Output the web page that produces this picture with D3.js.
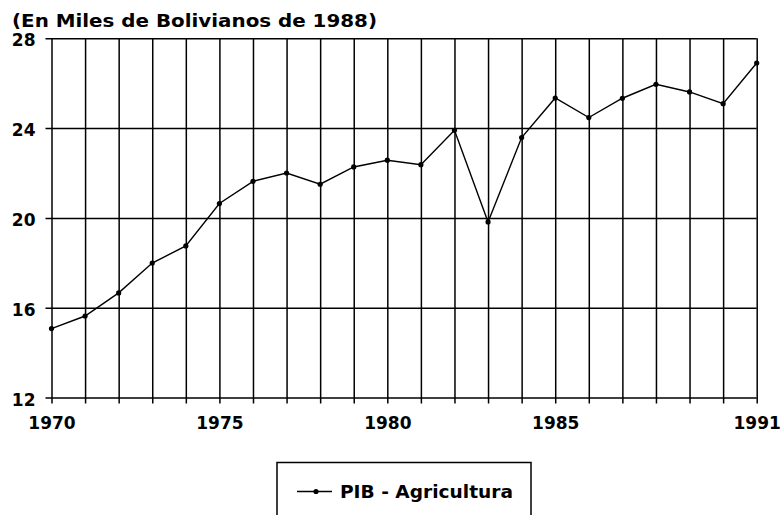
<!DOCTYPE html>
<html>
<head>
  <style type="text/css">
    body { margin: 0; background: #fff; }
    text { font-family: "DejaVu Sans", sans-serif; font-weight: bold; fill: #000; }
  </style>
</head>
<body>
  <svg width="780" height="515" id="chart"></svg>

  <script src="https://d3js.org/d3.v7.min.js"></script>
  <script>

// PIB Agricultura, en miles de bolivianos de 1988
const years = d3.range(1970, 1992)
const pib = [15.07, 15.63, 16.66, 17.99, 18.75, 20.64, 21.63, 22.0, 21.5, 22.27, 22.57,
             22.37, 23.9, 19.82, 23.58, 25.34, 24.47, 25.33, 25.95, 25.61, 25.09, 26.9]
const yTicks = [12, 16, 20, 24, 28]
const xLabels = [1970, 1975, 1980, 1985, 1991]
const title = '(En Miles de Bolivianos de 1988)'
const seriesName = 'PIB - Agricultura'

function translate(x, y) { return 'translate(' + x + ',' + y + ')'; }

let svg = d3.select('#chart')
let plotLeft = 51.5, plotRight = 756.7, plotTop = 38.3, plotBottom = 397.5
let x = d3.scaleLinear().domain([1970, 1991]).range([plotLeft, plotRight])
let y = d3.scaleLinear().domain([12, 28]).range([plotBottom, plotTop])

// vertical grid + x labels
let xAxis = d3.axisBottom(x)
  .tickValues(years)
  .tickSize(-(plotBottom - plotTop + 6))
  .tickPadding(13)
  .tickFormat(d => xLabels.includes(d) ? d : '')

let gx = svg.append('g').attr('transform', translate(0, plotBottom + 6)).call(xAxis)
gx.select('.domain').remove()

// horizontal grid + y labels
let yAxis = d3.axisLeft(y)
  .tickValues(yTicks)
  .tickSize(-(plotRight - plotLeft + 6))
  .tickPadding(10)

let gy = svg.append('g').attr('transform', translate(plotLeft - 6, 0)).call(yAxis)
gy.select('.domain').remove()

svg.selectAll('.tick line').attr('stroke', '#000').attr('stroke-width', 1.5)
svg.selectAll('.tick text')
  .attr('font-family', '"DejaVu Sans", sans-serif')
  .attr('font-weight', 'bold')
  .attr('font-size', 17)
  .attr('fill', '#000')
gy.selectAll('.tick text').attr('dy', '0.45em')

// title
svg.append('text')
  .attr('x', 12).attr('y', 27)
  .attr('font-size', 18)
  .attr('textLength', 365)
  .attr('lengthAdjust', 'spacingAndGlyphs')
  .text(title)

// series
let line = d3.line().x((d, i) => x(years[i])).y(d => y(d))

svg.append('path')
  .datum(pib)
  .attr('fill', 'none')
  .attr('stroke', '#000')
  .attr('stroke-width', 1.4)
  .attr('d', line)

svg.append('g').selectAll('circle')
  .data(pib)
  .enter()
  .append('circle')
    .attr('cx', (d, i) => x(years[i]))
    .attr('cy', d => y(d))
    .attr('r', 2.6)
    .attr('fill', '#000')

// legend
let legend = svg.append('g')
legend.append('rect')
  .attr('x', 277).attr('y', 462.5)
  .attr('width', 254).attr('height', 70)
  .attr('fill', 'none')
  .attr('stroke', '#000')
  .attr('stroke-width', 1.5)
legend.append('line')
  .attr('x1', 297).attr('x2', 332)
  .attr('y1', 491.5).attr('y2', 491.5)
  .attr('stroke', '#000').attr('stroke-width', 1.4)
legend.append('circle')
  .attr('cx', 316).attr('cy', 491.5).attr('r', 2.6).attr('fill', '#000')
legend.append('text')
  .attr('x', 340).attr('y', 497.5)
  .attr('font-size', 17)
  .attr('textLength', 173)
  .attr('lengthAdjust', 'spacingAndGlyphs')
  .text(seriesName)

  </script>
</body>
</html>
